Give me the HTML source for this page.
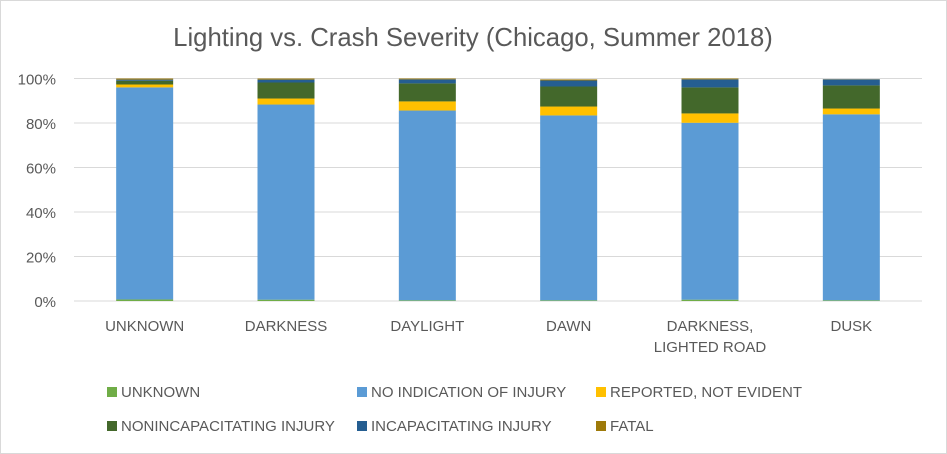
<!DOCTYPE html>
<html><head><meta charset="utf-8"><style>
body{margin:0;background:#fff;font-family:"Liberation Sans",Arial,sans-serif}
svg{display:block}
</style></head><body>
<svg width="947" height="454">
<rect x="0.5" y="0.5" width="946" height="453" fill="#fff" stroke="#d9d9d9"/>
<text x="473" y="46" text-anchor="middle" font-size="25.7" fill="#595959">Lighting vs. Crash Severity (Chicago, Summer 2018)</text>
<g id="grid"></g><g id="bars"></g><g id="labels"></g><g id="legend"></g>
</svg>
<script>
const categories=["UNKNOWN","DARKNESS","DAYLIGHT","DAWN","DARKNESS,|LIGHTED ROAD","DUSK"];
const seriesNames=["UNKNOWN","NO INDICATION OF INJURY","REPORTED, NOT EVIDENT","NONINCAPACITATING INJURY","INCAPACITATING INJURY","FATAL"];
const colors=["#70ad47","#5b9bd5","#ffc000","#43682b","#255e91","#9e7a0a"];
const unknownVals=[0.7,0.6,0.3,0.3,0.6,0.3];
const noInjuryVals=[95.3,87.7,85.3,83.1,79.5,83.6];
const reportedVals=[1.3,2.7,4.1,4.0,4.2,2.6];
const nonincapVals=[1.7,7.2,8.1,9.0,11.7,10.4];
const incapVals=[0.5,1.3,1.8,2.7,3.6,2.7];
const fatalVals=[0.5,0.5,0.4,0.5,0.4,0.1];
const ticks=["0%","20%","40%","60%","80%","100%"];
const series=[unknownVals,noInjuryVals,reportedVals,nonincapVals,incapVals,fatalVals];
const NS="http://www.w3.org/2000/svg";
const y0=301,y100=78.5,x0=74,x1=922;
const yS=v=>y0-(y0-y100)*v/100;
const band=(x1-x0)/categories.length;
const xC=i=>x0+band*(i+0.5);
const bw=57;
function mk(t,a,p){const e=document.createElementNS(NS,t);for(const k in a)e.setAttribute(k,a[k]);p.appendChild(e);return e;}
const grid=document.getElementById('grid'),bars=document.getElementById('bars'),labels=document.getElementById('labels'),legend=document.getElementById('legend');
ticks.forEach((t,i)=>{const v=i*20;
 const l=mk('line',{x1:x0,x2:x1,y1:yS(v),y2:yS(v),stroke:'#d9d9d9','stroke-width':1},grid);
 
 
 const tx=mk('text',{x:56,y:yS(v)+6,'text-anchor':'end','font-size':15,fill:'#595959'},labels);tx.textContent=t;
 
 
});
categories.forEach((c,i)=>{let cum=0;
 series.forEach((s,j)=>{const v=s[i];
  const r=mk('rect',{x:xC(i)-bw/2,y:yS(cum+v),width:bw,height:Math.max(0,yS(cum)-yS(cum+v)),fill:colors[j]},bars);
  
  
  cum+=v;});
 c.split('|').forEach((p,k)=>{const tx=mk('text',{x:xC(i),y:331+k*21,'text-anchor':'middle','font-size':15,fill:'#595959'},labels);tx.textContent=p;
  
  });
});
const lx=[107,357,596],ly=[392,426];
seriesNames.forEach((n,j)=>{const x=lx[j%3],y=ly[Math.floor(j/3)];
 const g=mk('g',{},legend);
 
 
 mk('rect',{x:x,y:y-5,width:10,height:10,fill:colors[j]},g);
 const t=mk('text',{x:x+14,y:y+5,'font-size':15,fill:'#595959'},g);t.textContent=n;
});
</script>
</body></html>
